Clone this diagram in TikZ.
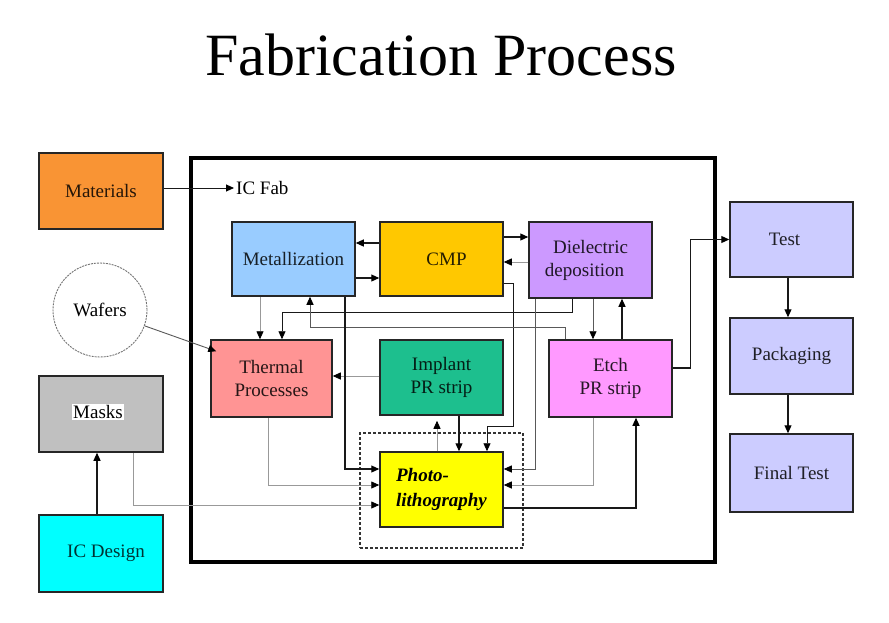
\documentclass[tikz,border=0pt]{standalone}
\usepackage{fontspec}
\setmainfont{Liberation Serif}
\usetikzlibrary{arrows.meta}
\definecolor{cmat}{HTML}{F99434}
\definecolor{cmetal}{HTML}{99CCFF}
\definecolor{ccmp}{HTML}{FFC800}
\definecolor{cdiel}{HTML}{CC99FF}
\definecolor{ctherm}{HTML}{FF9494}
\definecolor{cimpl}{HTML}{1DBF8E}
\definecolor{cetch}{HTML}{FF99FF}
\definecolor{cphoto}{HTML}{FFFF00}
\definecolor{cmask}{HTML}{C0C0C0}
\definecolor{cicd}{HTML}{00FFFF}
\definecolor{ctest}{HTML}{CCCCFF}
\begin{document}
\begin{tikzpicture}[x=1pt,y=-1pt,
  box/.style={draw=black!85, line width=1.5pt, inner sep=0pt, minimum width=123pt,
    minimum height=75pt, align=center, font=\fontsize{19}{23}\selectfont},
  arr/.style={-{Triangle[length=8pt,width=7pt,color=black]}, line width=1.1pt, draw=black!90},
  garr/.style={arr, draw=black!40, line width=0.8pt},
  marr/.style={arr, draw=black!65, line width=0.9pt}]
\useasboundingbox (0,0) rectangle (889,622);

% title
\node (title) at (441,55) {\fontsize{60}{70}\selectfont Fabrication Process};

% IC Fab frame
\node[draw=black, line width=4pt, minimum width=524pt, minimum height=404pt, inner sep=0pt] (icfab) at (453,360) {};
\node[anchor=west, inner sep=2pt, font=\fontsize{19}{23}\selectfont] (icfablabel) at (234,188) {IC Fab};

% outside boxes
\node[box, fill=cmat, text=cmat!15!black, minimum width=124pt, minimum height=76pt] (mat) at (101,191) {Materials};
\node[circle, draw=black!55, line width=0.9pt, dash pattern=on 2pt off 1pt, minimum size=94pt, inner sep=0pt, font=\fontsize{19}{23}\selectfont] (wafers) at (100,310) {Wafers};
\node[box, fill=cmask, minimum width=124pt, minimum height=76pt] (masks) at (101,414) {};
\node[fill=white, inner sep=1pt, font=\fontsize{19}{23}\selectfont] (maskslabel) at (98,412) {Masks};
\node[box, fill=cicd, text=cicd!20!black, minimum width=124pt, minimum height=77pt] (icd) at (101,553.5) {\hspace*{10pt}IC Design};

% inner boxes
\node[draw=black!80, line width=1.2pt, dash pattern=on 3pt off 2pt, minimum width=163pt, minimum height=115pt, inner sep=0pt] (litho) at (441.5,490.5) {};
\node[box, fill=cmetal, text=cmetal!15!black, minimum height=74pt] (metal) at (293.5,259) {Metallization};
\node[box, fill=ccmp, text=ccmp!15!black, minimum height=74pt] (cmp) at (441.5,259) {\hspace*{10pt}CMP};
\node[box, fill=cdiel, text=cdiel!15!black, minimum height=76pt] (diel) at (590.5,260) {Dielectric\\deposition\hspace*{12pt}};
\node[box, fill=ctherm, text=ctherm!15!black, minimum width=121pt, minimum height=77pt] (therm) at (271.5,378.5) {Thermal\\Processes};
\node[box, fill=cimpl, text=cimpl!15!black] (impl) at (441.5,377.5) {Implant\\PR strip};
\node[box, fill=cetch, text=cetch!15!black, minimum height=77pt] (etch) at (610.5,378.5) {Etch\\PR strip};
\node[box, fill=cphoto, align=left, font=\fontsize{19}{25}\selectfont\bfseries\itshape] (photo) at (441.5,489.5) {Photo-\\lithography};

% right boxes
\node[box, fill=ctest, text=ctest!15!black] (test) at (791.5,239.5) {Test\hspace*{14pt}};
\node[box, fill=ctest, text=ctest!15!black, minimum height=76pt] (pack) at (791.5,356) {Packaging};
\node[box, fill=ctest, text=ctest!15!black, minimum height=78pt] (final) at (791.5,473) {Final Test};

% outside connectors
\draw[arr, line width=0.9pt] ([yshift=3pt]mat.east) -- (icfablabel.west);
\draw[marr] (wafers) -- ([xshift=6pt,yshift=-12pt]therm.north west);
\draw[arr] ([xshift=-4pt]icd.north) -- ([xshift=-4pt]masks.south);
\draw[garr] ([xshift=32pt]masks.south) |- ([yshift=-15.5pt]photo.west);

% inner connectors
\draw[arr] ([yshift=16pt]cmp.west) -- ([yshift=16pt]cmp.west -| metal.east);
\draw[arr] ([yshift=-19pt]metal.east) -- ([yshift=-19pt]metal.east -| cmp.west);
\draw[arr] ([yshift=22pt]cmp.east) -- ([yshift=22pt]cmp.east -| diel.west);
\draw[garr] ([yshift=-2pt]diel.west) -- ([yshift=-2pt]diel.west -| cmp.east);
\draw[arr, line width=0.9pt] ([yshift=-24pt]cmp.east) -- ++(10,0) |- (487,426) -- ([xshift=45.5pt]photo.north);
\draw[arr] ([xshift=17.5pt]impl.south) -- ([xshift=17.5pt]photo.north);
\draw[garr] ([xshift=-4.5pt]photo.north) -- ([xshift=-4.5pt,yshift=-5pt]impl.south);
\draw[garr] ([yshift=1.5pt]impl.west) -- ([yshift=1.5pt]impl.west -| therm.east);
\draw[garr] ([xshift=-33.5pt]metal.south) -- ([xshift=-33.5pt]metal.south |- therm.north);
\draw[arr, line width=0.9pt] ([xshift=-18.5pt]diel.south) |- (282,312) -- ([xshift=10.5pt]therm.north);
\draw[marr] ([xshift=-45.5pt]etch.north) |- (310,327) -- ([xshift=16.5pt]metal.south);
\draw[marr] ([xshift=2.5pt]diel.south) -- ([xshift=2.5pt]diel.south |- etch.north);
\draw[arr] ([xshift=11.5pt]etch.north) -- ([xshift=11.5pt]etch.north |- diel.south);
\draw[arr] ([xshift=51.5pt]metal.south) |- ([yshift=20.5pt]photo.west);
\draw[marr] ([xshift=-55.5pt]diel.south) |- ([yshift=20.5pt]photo.east);
\draw[garr] ([xshift=-3.5pt]therm.south) |- ([yshift=4.5pt]photo.west);
\draw[garr] ([xshift=-17.5pt]etch.south) |- ([yshift=4.5pt]photo.east);
\draw[arr] ([yshift=-18.5pt]photo.east) -| ([xshift=25.5pt]etch.south);
\draw[arr] ([yshift=10.5pt]etch.east) -- ++(18,0) |- (test.west);

% right connectors
\draw[arr] ([xshift=-3.5pt]test.south) -- ([xshift=-3.5pt]pack.north);
\draw[arr] ([xshift=-3.5pt]pack.south) -- ([xshift=-3.5pt]final.north);
\end{tikzpicture}
\end{document}
